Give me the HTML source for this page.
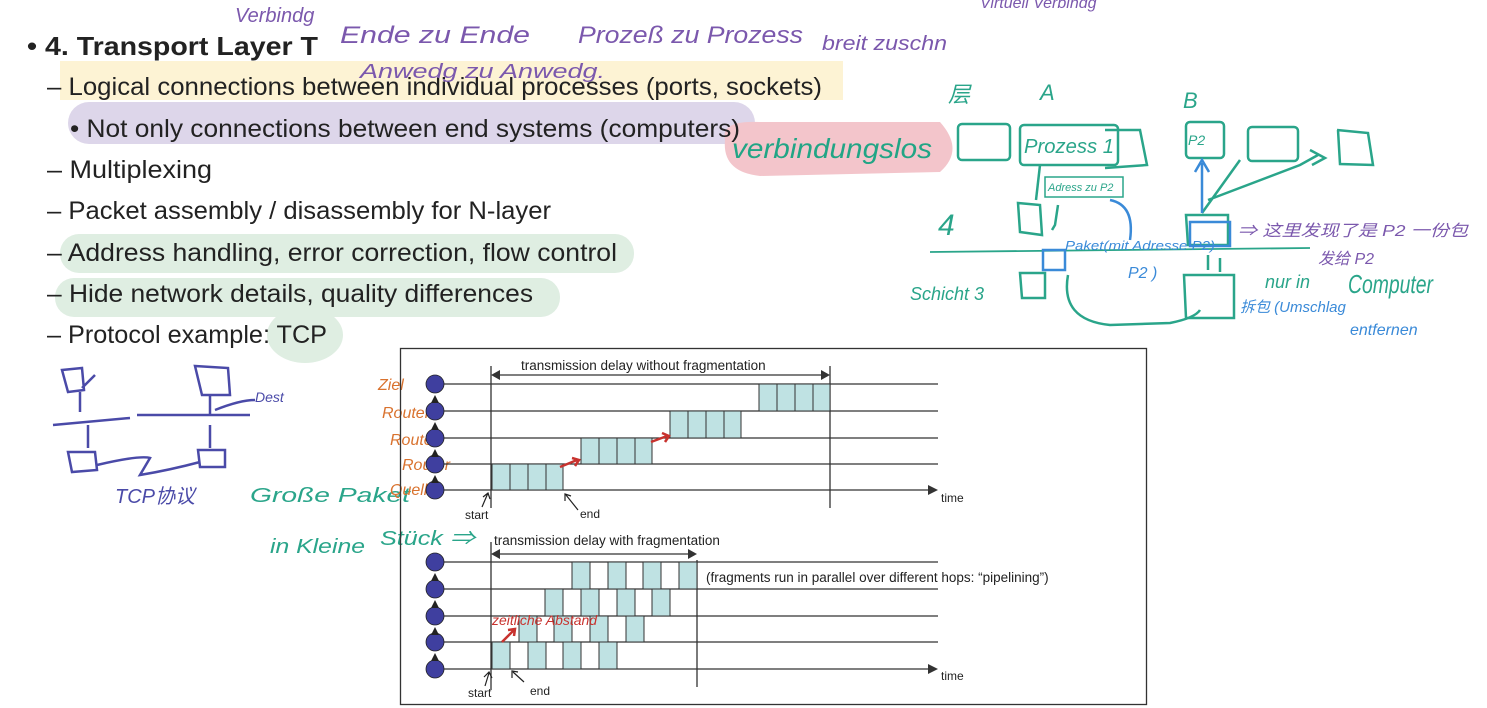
<!DOCTYPE html>
<html><head><meta charset="utf-8"><style>
html,body{margin:0;padding:0;background:#fff;}
svg{display:block;}
.t{font-family:"Liberation Sans",sans-serif;fill:#222;}
.h{font-family:"Liberation Sans","Noto Sans CJK SC",sans-serif;font-style:italic;}
</style></head><body>
<svg width="1487" height="708" viewBox="0 0 1487 708" xmlns="http://www.w3.org/2000/svg">
<rect x="60" y="61" width="783" height="39" fill="#fdf3d4"/>
<rect x="68" y="102" width="687" height="42" rx="21" fill="#ddd6ea"/>
<rect x="60" y="234" width="574" height="39" rx="19" fill="#dfeee2"/>
<rect x="55" y="278" width="505" height="39" rx="19" fill="#dfeee2"/>
<ellipse cx="305" cy="335" rx="38" ry="28" fill="#dfeee2"/>
<path d="M725 140 Q720 120 760 122 L940 122 Q965 150 940 172 L760 176 Q722 172 725 140Z" fill="#f3c5cb"/>
<text x="27" y="55" class="t" font-size="26" font-weight="bold" textLength="291" lengthAdjust="spacingAndGlyphs">• 4. Transport Layer T</text>
<g class="t" font-size="25">
<text x="47" y="95" textLength="775" lengthAdjust="spacingAndGlyphs">– Logical connections between individual processes (ports, sockets)</text>
<text x="70" y="137" textLength="670" lengthAdjust="spacingAndGlyphs">• Not only connections between end systems (computers)</text>
<text x="47" y="178" textLength="165" lengthAdjust="spacingAndGlyphs">– Multiplexing</text>
<text x="47" y="219" textLength="504" lengthAdjust="spacingAndGlyphs">– Packet assembly / disassembly for N-layer</text>
<text x="47" y="261" textLength="570" lengthAdjust="spacingAndGlyphs">– Address handling, error correction, flow control</text>
<text x="47" y="302" textLength="486" lengthAdjust="spacingAndGlyphs">– Hide network details, quality differences</text>
<text x="47" y="343" textLength="280" lengthAdjust="spacingAndGlyphs">– Protocol example: TCP</text>
</g>
<g class="h" fill="#7b58ad" font-size="24">
<text x="235" y="22" font-size="20">Verbindg</text>
<text x="340" y="43" textLength="190" lengthAdjust="spacingAndGlyphs">Ende zu Ende</text>
<text x="578" y="43" textLength="225" lengthAdjust="spacingAndGlyphs">Prozeß zu Prozess</text>
<text x="822" y="50" font-size="20" textLength="125" lengthAdjust="spacingAndGlyphs">breit zuschn</text>
<text x="360" y="78" font-size="20" textLength="245" lengthAdjust="spacingAndGlyphs">Anwedg zu Anwedg.</text>
<text x="980" y="8" font-size="16">Virtuell Verbindg</text>
</g>
<text x="732" y="158" class="h" fill="#21a585" font-size="28" textLength="200" lengthAdjust="spacingAndGlyphs">verbindungslos</text>
<g fill="none" stroke="#2aa58a" stroke-width="2.5">
<rect x="958" y="124" width="52" height="36" rx="4"/>
<rect x="1020" y="125" width="98" height="40" rx="4"/>
<path d="M1105 130 L1140 130 L1147 165 L1105 168"/>
<rect x="1186" y="122" width="38" height="36" rx="4"/>
<rect x="1248" y="127" width="50" height="34" rx="4"/>
<path d="M1337 130 L1368 133 L1373 165 L1340 164 L1338 130"/>
<path d="M1040 165 L1036 200"/>
<rect x="1045" y="177" width="78" height="20" stroke-width="1.5"/>
<path d="M1018 203 L1040 205 L1042 235 L1020 232 Z"/>
<path d="M1058 205 L1055 225 L1052 230"/>
<path d="M930 252 L1310 248" stroke-width="1.8"/>
<path d="M1020 273 L1045 273 L1045 298 L1022 298 Z"/>
<path d="M1186 215 L1228 215 L1228 245 L1188 245 Z"/>
<path d="M1184 275 L1234 275 L1234 318 L1186 318 Z"/>
<path d="M1068 275 Q1060 320 1110 325 L1170 323 Q1195 318 1200 310"/>
<path d="M1202 213 L1240 160 M1208 200 L1300 165 L1318 155 M1310 150 L1325 158 L1312 165"/>
<path d="M1208 255 L1208 270 M1220 272 L1220 258"/>
</g>
<g class="h" fill="#2aa58a" font-size="22">
<text x="948" y="102">层</text>
<text x="1040" y="100">A</text>
<text x="1183" y="108">B</text>
<text x="1024" y="153" font-size="20" textLength="90" lengthAdjust="spacingAndGlyphs">Prozess 1</text>
<text x="1048" y="191" font-size="11">Adress zu P2</text>
<text x="938" y="235" font-size="30">4</text>
<text x="910" y="300" font-size="18">Schicht 3</text>
<text x="1265" y="288" font-size="18">nur in</text>
<text x="1348" y="293" font-size="26" textLength="85" lengthAdjust="spacingAndGlyphs">Computer</text>
<text x="1188" y="145" font-size="14">P2</text>
</g>
<g fill="none" stroke="#3a8ad8" stroke-width="2.5">
<path d="M1110 200 Q1135 205 1130 240"/>
<rect x="1043" y="250" width="22" height="20"/>
<rect x="1190" y="222" width="40" height="24"/>
<path d="M1202 213 L1202 163 M1195 172 L1202 160 L1209 172"/>
</g>
<g class="h" fill="#3a8ad8" font-size="13">
<text x="1065" y="250" textLength="150" lengthAdjust="spacingAndGlyphs">Paket(mit Adresse P2)</text>
<text x="1128" y="278" font-size="16">P2 )</text>
<text x="1240" y="312" font-size="15">拆包 (Umschlag</text>
<text x="1350" y="335" font-size="16">entfernen</text>
</g>
<g class="h" fill="#7b58ad" font-size="16">
<text x="1238" y="236" textLength="230" lengthAdjust="spacingAndGlyphs">⇒ 这里发现了是 P2 一份包</text>
<text x="1318" y="264">发给 P2</text>
</g>
<g fill="none" stroke="#4a4aa8" stroke-width="2.5">
<path d="M62 370 L82 368 L84 390 L68 392 Z M82 388 L95 375"/>
<path d="M80 392 L80 412 M53 425 L130 418 M137 415 L250 415"/>
<path d="M195 366 L228 368 L230 395 L202 395 Z M210 395 L210 415 M215 410 Q240 400 255 400"/>
<path d="M88 425 L88 448 M68 452 L95 452 L97 470 L72 472 Z M97 465 Q140 455 150 458 L140 475 Q170 470 200 462"/>
<path d="M210 425 L210 448 M198 450 L225 450 L225 467 L200 467 Z"/>
</g>
<g class="h" fill="#4a4aa8">
<text x="255" y="402" font-size="14">Dest</text>
<text x="115" y="503" font-size="20">TCP协议</text>
</g>
<g class="h" fill="#2aa58a" font-size="20">
<text x="250" y="502" textLength="160" lengthAdjust="spacingAndGlyphs">Große Paket</text>
<text x="270" y="553" textLength="95" lengthAdjust="spacingAndGlyphs">in Kleine</text>
<text x="380" y="545" textLength="95" lengthAdjust="spacingAndGlyphs">Stück ⇒</text>
</g>
<g class="h" fill="#d9722e" font-size="16">
<text x="378" y="390">Ziel</text>
<text x="382" y="418">Router</text>
<text x="390" y="445">Router</text>
<text x="402" y="470">Router</text>
<text x="390" y="495">Quelle</text>
</g>
<rect x="400.5" y="348.5" width="746" height="356" fill="none" stroke="#333" stroke-width="1.3"/>
<g stroke="#333" stroke-width="1.3" fill="none">
<path d="M440 384H938M440 411H938M440 438H938M440 464H938M440 490H930"/>
<path d="M440 562H938M440 589H938M440 616H938M440 642H938M440 669H930"/>
<path d="M491 366V508M830 366V508M491 542V690M697 560V687"/>
<path d="M496 375H825M496 554H692"/>
</g>
<g fill="#333">
<path d="M938 490l-10-5v10z"/><path d="M938 669l-10-5v10z"/>
<path d="M491 375l9-5v10z"/><path d="M830 375l-9-5v10z"/>
<path d="M491 554l9-5v10z"/><path d="M697 554l-9-5v10z"/>
</g>
<g class="t" font-size="13.5">
<text x="521" y="370">transmission delay without fragmentation</text>
<text x="494" y="545">transmission delay with fragmentation</text>
<text x="706" y="582">(fragments run in parallel over different hops: “pipelining”)</text>
<text x="941" y="502" font-size="12">time</text>
<text x="941" y="680" font-size="12">time</text>
<text x="465" y="519" font-size="12">start</text>
<text x="580" y="518" font-size="12">end</text>
<text x="468" y="697" font-size="12">start</text>
<text x="530" y="695" font-size="12">end</text>
</g>
<g stroke="#222" stroke-width="1.2" fill="none">
<path d="M482 507L488 493M483 497L488 493L490 499M578 510L566 495M565 501L565 494L571 496"/>
<path d="M485 686L489 673M484 677L489 672L492 678M524 682L513 672M512 678L512 671L518 672"/>
</g>
<g fill="#3f3f9f" stroke="#222" stroke-width="0.8">
<circle cx="435" cy="384" r="9"/><circle cx="435" cy="411" r="9"/><circle cx="435" cy="438" r="9"/><circle cx="435" cy="464" r="9"/><circle cx="435" cy="490" r="9"/>
<circle cx="435" cy="562" r="9"/><circle cx="435" cy="589" r="9"/><circle cx="435" cy="616" r="9"/><circle cx="435" cy="642" r="9"/><circle cx="435" cy="669" r="9"/>
</g>
<g fill="#222">
<path d="M435 395l-4 8h8zM435 422l-4 8h8zM435 449l-4 8h8zM435 475l-4 8h8z"/>
<path d="M435 573l-4 8h8zM435 600l-4 8h8zM435 627l-4 8h8zM435 653l-4 8h8z"/>
</g>
<g fill="#bfe2e3" stroke="#333" stroke-width="1">
<rect x="492" y="464" width="18" height="26"/><rect x="510" y="464" width="18" height="26"/><rect x="528" y="464" width="18" height="26"/><rect x="546" y="464" width="17" height="26"/>
<rect x="581" y="438" width="18" height="26"/><rect x="599" y="438" width="18" height="26"/><rect x="617" y="438" width="18" height="26"/><rect x="635" y="438" width="17" height="26"/>
<rect x="670" y="411" width="18" height="27"/><rect x="688" y="411" width="18" height="27"/><rect x="706" y="411" width="18" height="27"/><rect x="724" y="411" width="17" height="27"/>
<rect x="759" y="384" width="18" height="27"/><rect x="777" y="384" width="18" height="27"/><rect x="795" y="384" width="18" height="27"/><rect x="813" y="384" width="17" height="27"/>
<rect x="492" y="642" width="18" height="27"/><rect x="528" y="642" width="18" height="27"/><rect x="563" y="642" width="18" height="27"/><rect x="599" y="642" width="18" height="27"/>
<rect x="519" y="616" width="18" height="26"/><rect x="554" y="616" width="18" height="26"/><rect x="590" y="616" width="18" height="26"/><rect x="626" y="616" width="18" height="26"/>
<rect x="545" y="589" width="18" height="27"/><rect x="581" y="589" width="18" height="27"/><rect x="617" y="589" width="18" height="27"/><rect x="652" y="589" width="18" height="27"/>
<rect x="572" y="562" width="18" height="27"/><rect x="608" y="562" width="18" height="27"/><rect x="643" y="562" width="18" height="27"/><rect x="679" y="562" width="18" height="27"/>
</g>
<g stroke="#c8322e" stroke-width="2.5" fill="none">
<path d="M560 467L577 460M572 458L579 460L575 466"/>
<path d="M651 442L667 436M662 433L669 436L665 442"/>
<path d="M502 642L514 630M508 630L515 629L514 636"/>
</g>
<text x="492" y="625" class="h" fill="#c8322e" font-size="14" textLength="105" lengthAdjust="spacingAndGlyphs">zeitliche Abstand</text>
</svg>
</body></html>
